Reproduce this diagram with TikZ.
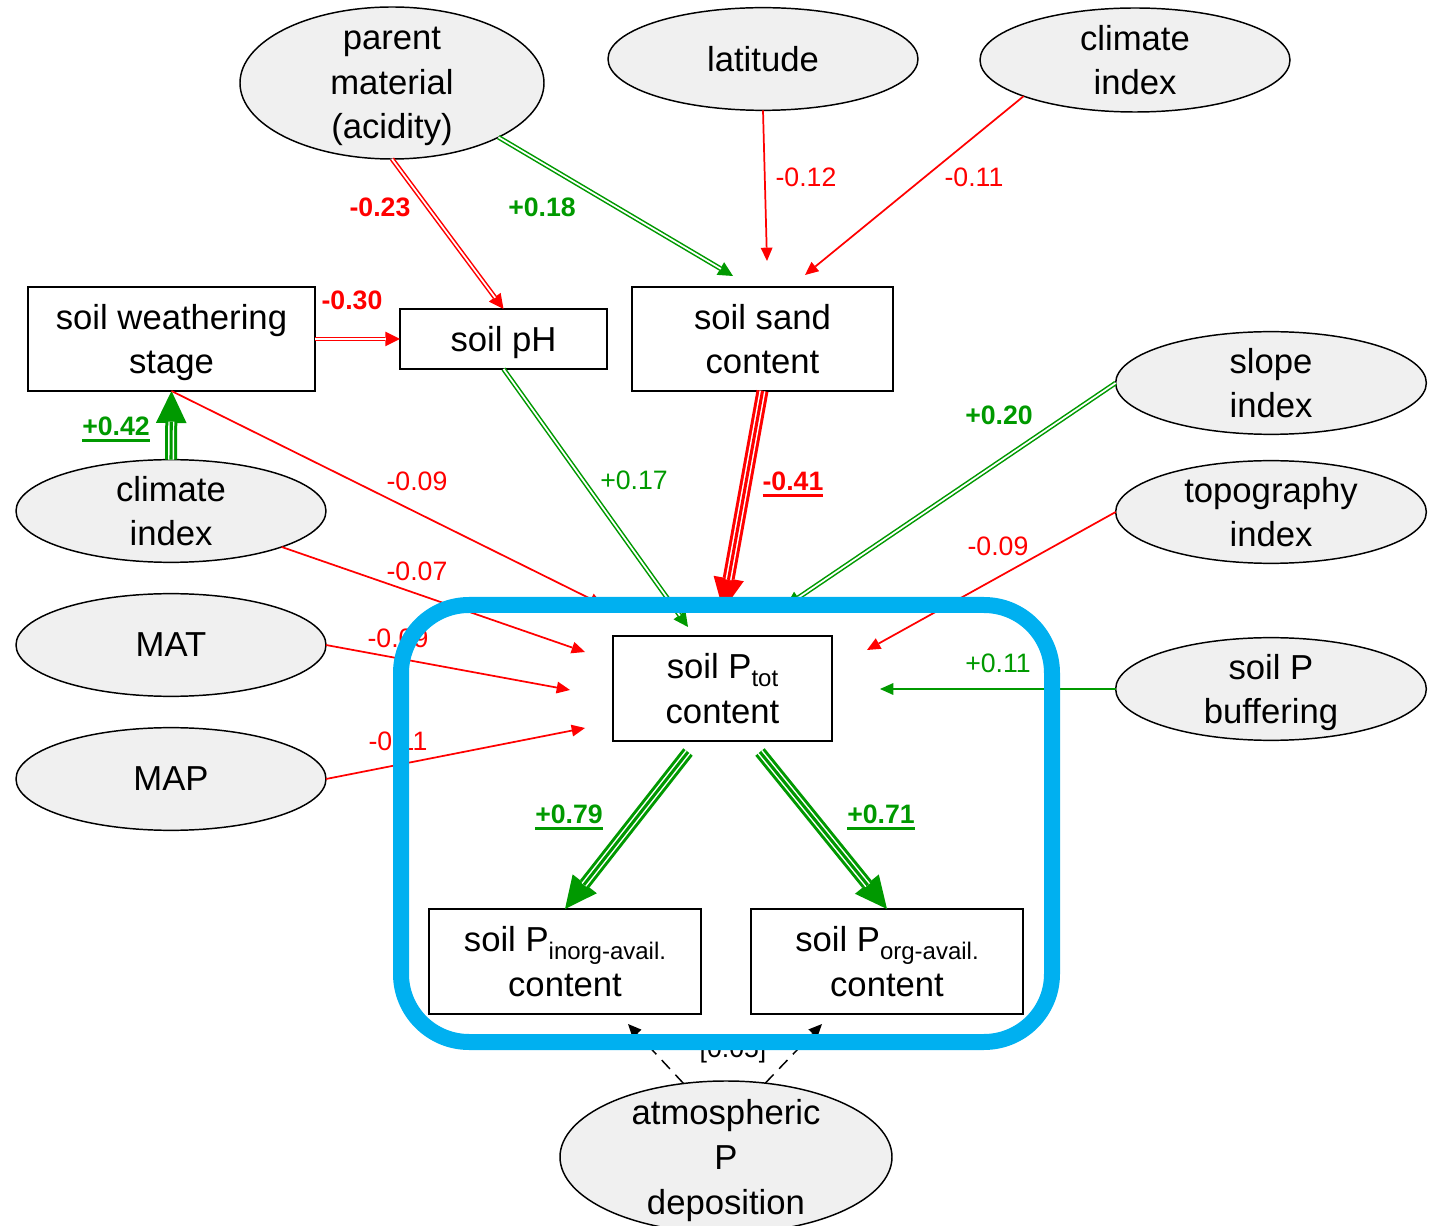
\documentclass[tikz,border=0pt]{standalone}
\usepackage{fontspec}
\setmainfont{Liberation Sans}
\usetikzlibrary{shapes.geometric,arrows.meta}
\definecolor{myred}{RGB}{255,0,0}
\definecolor{mygreen}{RGB}{0,153,0}
\definecolor{myblue}{RGB}{0,176,240}
\definecolor{ellfill}{RGB}{240,240,240}
\newcommand\psub[1]{\raisebox{-5.5pt}{\fontsize{18}{18}\selectfont #1}}
\begin{document}
\begin{tikzpicture}[x=0.75pt,y=-0.75pt,
  every node/.style={inner sep=0pt, outer sep=0pt},
  mainfont/.style={font=\fontsize{26}{33.5}\selectfont},
  elltxt/.style={align=center, mainfont, text depth=0pt},
  ell/.style n args={2}{ellipse, draw=black, line width=1.1pt, fill=ellfill, minimum width=#1, minimum height=#2},
  box/.style n args={2}{draw=black, line width=1.4pt, fill=white, align=center, mainfont, minimum width=#1, minimum height=#2, text depth=0pt},
  lab/.style={font=\fontsize{20}{24}\selectfont},
  blab/.style={font=\fontsize{20}{24}\selectfont\bfseries},
  thin/.style={draw=#1, line width=1.3pt, -{Triangle[length=10pt,width=9pt,line width=0pt]}},
  dbl/.style={draw=#1, line width=3.6pt, -{Triangle[length=11pt,width=11pt,line width=0pt]},
    postaction={draw=white, line width=1.3pt, -, shorten >=10.5pt}},
  trp/.style={draw=#1, line width=9pt, -{Triangle[length=24pt,width=23pt,line width=0pt]},
    postaction={draw=white, line width=1.1pt, double=#1, double distance=2.3pt, -, shorten >=23pt}},
  dsh/.style={draw=black, line width=1.1pt, dash pattern=on 9pt off 6pt, -{Triangle[length=10pt,width=9pt,line width=0pt]}},
  uline/.style={draw=#1, line width=2pt}
]
\useasboundingbox (0,0) rectangle (1440,1226);

% ellipses
\node[ell={228pt}{114pt}, label={[elltxt]center:{parent\\material\\(acidity)}}] (pm) at (392,83) {};
\node[ell={232.5pt}{77pt}, label={[elltxt]center:{latitude}}] (lat) at (763,59) {};
\node[ell={232.5pt}{78pt}, label={[elltxt]center:{climate\\index}}] (ct) at (1135,60) {};
\node[ell={233pt}{77pt}, label={[elltxt]center:{slope\\index}}] (sl) at (1271,383) {};
\node[ell={233pt}{77pt}, label={[elltxt]center:{topography\\index}}] (tp) at (1271,512) {};
\node[ell={233pt}{77pt}, label={[elltxt]center:{soil P\\buffering}}] (bf) at (1271,689) {};
\node[ell={232.5pt}{77pt}, label={[elltxt]center:{climate\\index}}] (cl) at (171,511) {};
\node[ell={232.5pt}{77pt}, label={[elltxt]center:{MAT}}] (mat) at (171,645) {};
\node[ell={232.5pt}{77pt}, label={[elltxt]center:{MAP}}] (map) at (171,779) {};
\node[ell={249pt}{114pt}, label={[elltxt]center:{atmospheric\\P\\deposition}}] (atm) at (726,1157) {};

% boxes
\node[box={215.25pt}{78pt}] (ws) at (171.5,339) {soil weathering\\stage};
\node[box={155.25pt}{45pt}] (ph) at (503.5,339) {soil pH};
\node[box={195.75pt}{78pt}] (sd) at (762.5,339) {soil sand\\content};
\node[box={164.25pt}{78.75pt}] (pt) at (722.5,688.5) {soil P\psub{tot}\\content};
\node[box={204pt}{78.75pt}] (pin) at (565,961.5) {soil P\psub{inorg-avail.}\\content};
\node[box={204pt}{78.75pt}] (porg) at (887,961.5) {soil P\psub{org-avail.}\\content};

% free ends
\coordinate (csd1) at (733,276);
\coordinate (csd2) at (767,261);
\coordinate (csd3) at (805,275);
\coordinate (cpt1) at (603,605);
\coordinate (cpt2) at (688,627);
\coordinate (cpt3) at (723,610);
\coordinate (cpt4) at (786,606);
\coordinate (cpt5) at (867,650);
\coordinate (cpt6) at (585,652);
\coordinate (cpt7) at (570,690);
\coordinate (cpt8) at (585,728);
\coordinate (cpt9) at (880,689);
\coordinate (spin) at (688,752);
\coordinate (sporg) at (760,752);
\coordinate (cat1) at (628,1024);
\coordinate (cat2) at (822,1024);

% connectors
\draw[dbl=myred] (pm.south) -- (ph.north);
\draw[dbl=mygreen] (pm.-27) -- (csd1);
\draw[thin=myred] (lat.south) -- (csd2);
\draw[thin=myred] (ct.198) -- (csd3);
\draw[dbl=myred] (ws.east) -- (ph.west);
\draw[trp=mygreen] (cl.north) -- (ws.south);
\draw[thin=myred] (ws.south) -- (cpt1);
\draw[dbl=mygreen] (ph.south) -- (cpt2);
\draw[trp=myred] (sd.south) -- (cpt3);
\draw[dbl=mygreen] (sl.west) -- (cpt4);
\draw[thin=myred] (tp.west) -- (cpt5);
\draw[thin=myred] (cl.-18) -- (cpt6);
\draw[thin=myred] (mat.east) -- (cpt7);
\draw[thin=myred] (map.east) -- (cpt8);
\draw[thin=mygreen] (bf.west) -- (cpt9);
\draw[trp=mygreen] (spin) -- (pin.north);
\draw[trp=mygreen] (sporg) -- (porg.north);
\draw[dsh] (atm.120) -- (cat1);
\draw[dsh] (atm.62) -- (cat2);

% labels
\node[blab, text=myred] (l1) at (380,207) {-0.23};
\node[blab, text=mygreen] (l2) at (542,207) {+0.18};
\node[lab, text=myred] (l3) at (806,177) {-0.12};
\node[lab, text=myred] (l4) at (974,177) {-0.11};
\node[blab, text=myred] (l5) at (352,300) {-0.30};
\node[blab, text=mygreen] (l6) at (116,426) {+0.42};
\node[lab, text=myred] (l7) at (417,481) {-0.09};
\node[lab, text=mygreen] (l8) at (634,480) {+0.17};
\node[blab, text=myred] (l9) at (793,481) {-0.41};
\node[blab, text=mygreen] (l10) at (999,415) {+0.20};
\node[lab, text=myred] (l11) at (998,546) {-0.09};
\node[lab, text=myred] (l12) at (417,571) {-0.07};
\node[lab, text=myred] (l13) at (398,638) {-0.09};
\node[lab, text=myred] (l14) at (398,741) {-0.11};
\node[lab, text=mygreen] (l15) at (998,663) {+0.11};
\node[blab, text=mygreen] (l16) at (569,814) {+0.79};
\node[blab, text=mygreen] (l17) at (881,814) {+0.71};
\node[lab, text=black] (l18) at (733,1051) {[0.05]};

\draw[uline=mygreen] ([yshift=-4pt]l6.base west) -- ([yshift=-4pt]l6.base east);
\draw[uline=myred] ([yshift=-4pt]l9.base west) -- ([yshift=-4pt]l9.base east);
\draw[uline=mygreen] ([yshift=-4pt]l16.base west) -- ([yshift=-4pt]l16.base east);
\draw[uline=mygreen] ([yshift=-4pt]l17.base west) -- ([yshift=-4pt]l17.base east);

% blue frame
\draw[myblue, line width=12pt, rounded corners=51pt] (401,605) rectangle (1052,1042);
\end{tikzpicture}
\end{document}
